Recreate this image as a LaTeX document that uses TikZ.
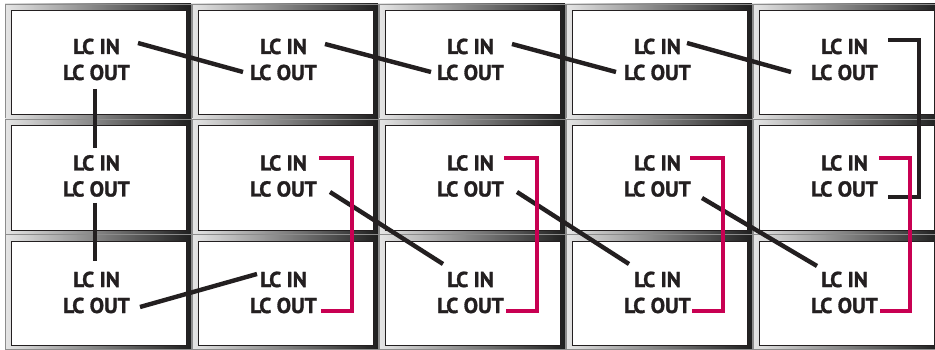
\documentclass[tikz,border=0pt]{standalone}
\usepackage{fontspec}
\setmainfont{PT Sans}
\newfontfamily\lblfont{PT Sans}[BoldFeatures={FakeBold=1.4}]
\usetikzlibrary{calc}
\definecolor{mag}{RGB}{200,0,82}
\definecolor{ink}{RGB}{35,31,32}
\begin{document}
\begin{tikzpicture}[x=1pt,y=-1pt,
  lbl/.style={font=\lblfont\bfseries\fontsize{21.5}{21.5}\selectfont, inner sep=0pt, anchor=base, text=ink},
  wire/.style={line width=4.4pt, draw=ink},
  mwire/.style={line width=4.4pt, draw=mag},
  bezel/.style={left color=black!10, right color=black!88, draw=black!45, line width=0.6pt},
  screen/.style={fill=white, draw=ink, line width=1pt}]
\useasboundingbox (0,0) rectangle (935,350);
\fill[white] (0,0) rectangle (935,350);
\begin{scope}
\clip (0,0) rectangle (935,350);
\foreach \c in {0,...,4} {
  \foreach \r in {0,1,2} {
    \pgfmathsetmacro\xa{5+187*\c}
    \pgfmathsetmacro\ya{4+115*\r}
    \shade[bezel] (\xa,\ya) rectangle (\xa+186,\ya+115);
    \draw[screen] (\xa+6,\ya+7) rectangle (\xa+181,\ya+111);
    \node[lbl] (in\r\c) at (96.5+187*\c, 54+116.5*\r) {LC IN};
    \node[lbl] (out\r\c) at (96.5+187*\c, 80+116.5*\r) {LC OUT};
  }
}
\end{scope}
% row 1 diagonals
\draw[wire] ($(in00.base)+(41.5,-11)$) -- ($(out01.base)+(-40.5,-8)$);
\draw[wire] ($(in01.base)+(41.5,-10)$) -- ($(out02.base)+(-39.5,-8)$);
\draw[wire] ($(in02.base)+(41.5,-10)$) -- ($(out03.base)+(-41.5,-8)$);
\draw[wire] ($(in03.base)+(29.5,-11)$) -- ($(out04.base)+(-53.5,-8)$);
% column 1 verticals
\draw[wire] ($(out00.base)+(-1.5,9)$) -- ($(in10.base)+(-1.5,-22.5)$);
\draw[wire] ($(out10.base)+(-1.5,6.5)$) -- ($(in20.base)+(-1.5,-26)$);
% row 3 first link
\draw[wire] ($(out20.base)+(43.5,-6)$) -- ($(in21.base)+(-26.5,-13)$);
% row 2 -> row 3 diagonals
\draw[wire] ($(out11.base)+(46.5,-4.5)$) -- ($(in22.base)+(-27.5,-23)$);
\draw[wire] ($(out12.base)+(46.5,-4.5)$) -- ($(in23.base)+(-28.5,-23)$);
\draw[wire] ($(out13.base)+(44.5,1.5)$) -- ($(in24.base)+(-27.5,-21)$);
% black bracket column 5
\draw[wire] ($(in04.base)+(43.5,-14)$) -| ($(out14.base)+(74.5,0.5)$) -- ($(out14.base)+(43.5,0.5)$);
% magenta brackets
\draw[mwire] ($(in11.base)+(35.5,-12.5)$) -| ($(out21.base)+(68.5,-2)$) -- ($(out21.base)+(37.5,-2)$);
\draw[mwire] ($(in12.base)+(33.5,-12.5)$) -| ($(out22.base)+(66.5,-2)$) -- ($(out22.base)+(35.5,-2)$);
\draw[mwire] ($(in13.base)+(32.5,-12.5)$) -| ($(out23.base)+(65.5,-2)$) -- ($(out23.base)+(34.5,-2)$);
\draw[mwire] ($(in14.base)+(34.5,-12.5)$) -| ($(out24.base)+(65.5,-2)$) -- ($(out24.base)+(35.5,-2)$);
\end{tikzpicture}
\end{document}
